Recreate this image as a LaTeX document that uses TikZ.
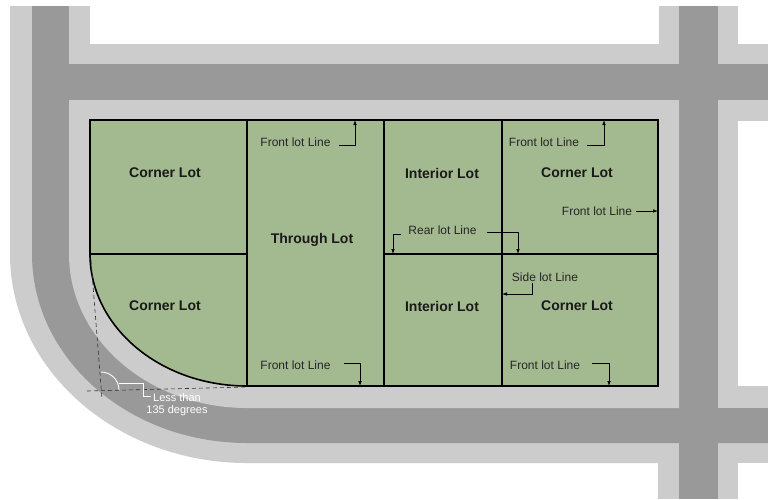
\documentclass[tikz,border=0pt]{standalone}
\usepackage{fontspec}
\setmainfont{Liberation Sans}
\usetikzlibrary{arrows.meta}
\definecolor{lotgreen}{RGB}{163,185,143}
\definecolor{lightroad}{RGB}{204,204,204}
\definecolor{darkroad}{RGB}{153,153,153}
\begin{document}
\begin{tikzpicture}[x=1pt,y=-1pt,
  lotlabel/.style={font=\fontsize{14}{16}\selectfont\bfseries, text=black!90, inner sep=0pt},
  linelabel/.style={font=\fontsize{12}{14}\selectfont, text=black!85, inner sep=0pt},
  leader/.style={line width=0.8pt, -{Latex[length=5pt,width=3.6pt]}},
  lotline/.style={line width=1.6pt, line join=miter},
  tangent/.style={line width=0.6pt, dash pattern=on 4pt off 3pt, black!80}]
\useasboundingbox (0,0) rectangle (768,499);
\fill[white] (0,0) rectangle (768,499);
% outer light band of the streets
\fill[lightroad] (10,6) -- (768,6) -- (768,463) -- (247,463)
  arc[start angle=270, end angle=180, x radius=237pt, y radius=209pt] -- cycle;
\fill[lightroad] (658,463) rectangle (738,499);
% dark carriageways
\fill[darkroad] (32,64) -- (768,64) -- (768,443) -- (247,443)
  arc[start angle=270, end angle=180, x radius=215pt, y radius=189pt] -- cycle;
\fill[darkroad] (32,6) rectangle (69,64);
\fill[darkroad] (679,6) rectangle (718,499);
% inner light band
\fill[lightroad] (69,100) -- (679,100) -- (679,408) -- (247,408)
  arc[start angle=270, end angle=180, x radius=178pt, y radius=154pt] -- cycle;
\fill[lightroad] (718,100) rectangle (768,408);
% white blocks
\fill[white] (90,6) rectangle (659,44);
\fill[white] (738,6) rectangle (768,44);
\fill[white] (738,121) rectangle (768,386);
\fill[white] (738,463) rectangle (768,499);
% lots
\fill[lotgreen] (90,120) -- (658,120) -- (658,386) -- (247,386)
  arc[start angle=270, end angle=180, x radius=157pt, y radius=132pt] -- cycle;
\draw[lotline] (90,120) -- (658,120) -- (658,386) -- (247,386)
  arc[start angle=270, end angle=180, x radius=157pt, y radius=132pt] -- cycle;
\draw[lotline] (247,120) -- (247,386);
\draw[lotline] (384,120) -- (384,386);
\draw[lotline] (502,120) -- (502,386);
\draw[lotline] (90,254) -- (247,254);
\draw[lotline] (384,254) -- (658,254);
% lot names
\node[lotlabel] (cl1) at (165,173) {Corner Lot};
\node[lotlabel] (cl2) at (165,306) {Corner Lot};
\node[lotlabel] (thr) at (312,240) {Through Lot};
\node[lotlabel] (in1) at (442,173) {Interior Lot};
\node[lotlabel] (in2) at (442,306) {Interior Lot};
\node[lotlabel] (cl3) at (577,173) {Corner Lot};
\node[lotlabel] (cl4) at (577,306) {Corner Lot};
% line labels
\node[linelabel] (f1) at (295.5,142) {Front lot Line};
\node[linelabel] (f2) at (544,142) {Front lot Line};
\node[linelabel] (f3) at (597,211) {Front lot Line};
\node[linelabel] (r1) at (442.5,230) {Rear lot Line};
\node[linelabel] (s1) at (545,277) {Side lot Line};
\node[linelabel] (f4) at (295.5,365) {Front lot Line};
\node[linelabel] (f5) at (545,365) {Front lot Line};
% arrow targets
\coordinate (t1) at (355,120);
\coordinate (t2) at (604,120);
\coordinate (t3) at (658,211);
\coordinate (t4) at (393,254);
\coordinate (t5) at (518,254);
\coordinate (t6) at (502,294);
\coordinate (t7) at (360,386);
\coordinate (t8) at (609,386);
\draw[leader] ([xshift=8pt,yshift=-3pt]f1.east) -| (t1);
\draw[leader] ([xshift=8pt,yshift=-3pt]f2.east) -| (t2);
\draw[leader] ([xshift=4pt]f3.east) -- (t3);
\draw[leader] ([xshift=-7pt,yshift=-4pt]r1.west) -| (t4);
\draw[leader] ([xshift=10pt,yshift=-2pt]r1.east) -| (t5);
\draw[leader] ([xshift=-13pt,yshift=-1pt]s1.south) |- (t6);
\draw[leader] ([xshift=13pt,yshift=2pt]f4.east) -| (t7);
\draw[leader] ([xshift=12pt,yshift=2pt]f5.east) -| (t8);
% angle construction
\draw[tangent] (91,260) -- (102,399);
\draw[tangent] (87,391) -- (247,387);
\draw[white, line width=0.9pt] (101,372) arc[start angle=90, end angle=0, radius=18pt];
\node[font=\fontsize{11}{12}\selectfont, text=white, align=center, inner sep=0pt]
  (ang) at (177,405) {Less than\\135 degrees};
\coordinate (angs) at (119,383);
\draw[white, line width=0.7pt] (angs) -- (143,383) |- ([yshift=-3pt]ang.north -| 151,0);
\end{tikzpicture}
\end{document}
